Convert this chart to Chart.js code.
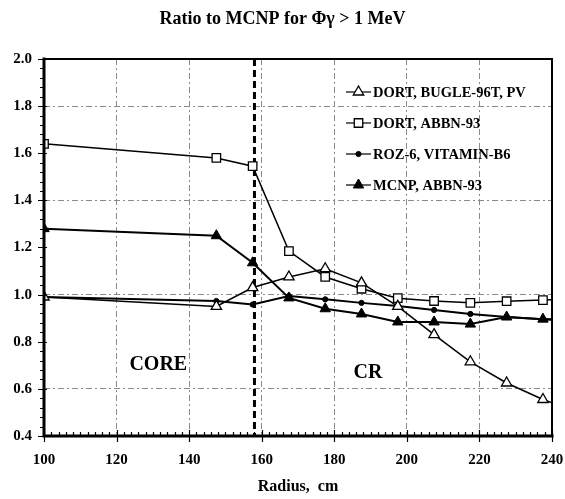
<!DOCTYPE html>
<html>
<head>
<meta charset="utf-8">
<script src="https://cdn.jsdelivr.net/npm/chart.js"></script>
<style>
  html, body { margin: 0; padding: 0; background: #fff; }
  canvas { display: block; }
</style>
</head>
<body>
<canvas id="chart" width="565" height="499"></canvas>
<script>
// Radial mesh positions (cm); the last one lies just outside the plotted range
const radius = [100, 147.5, 157.5, 167.5, 177.5, 187.5, 197.5, 207.5, 217.5, 227.5, 237.5, 247.5];

// Ratio to MCNP, gamma flux above 1 MeV
const dortBugle = [0.99, 0.95, 1.03, 1.075, 1.11, 1.05, 0.95, 0.83, 0.715, 0.625, 0.555, 0.50];
const dortAbbn  = [1.64, 1.58, 1.545, 1.185, 1.075, 1.025, 0.985, 0.973, 0.965, 0.972, 0.977, 0.98];
const roz6      = [0.99, 0.973, 0.958, 0.994, 0.98, 0.965, 0.952, 0.935, 0.918, 0.905, 0.896, 0.885];
const mcnpAbbn  = [1.28, 1.25, 1.135, 0.986, 0.94, 0.918, 0.884, 0.884, 0.875, 0.905, 0.896, 0.893];

const seriesLabels = ['DORT, BUGLE-96T, PV', 'DORT, ABBN-93', 'ROZ-6, VITAMIN-B6', 'MCNP, ABBN-93'];

// Core / core-reflector boundary and zone captions
const BOUNDARY_RADIUS = 158;
const zoneNames = ['CORE', 'CR'];
const zoneX = [131.5, 189.3];
const zoneY = [0.70, 0.67];

const SERIF = "'Liberation Serif', 'Times New Roman', serif";

const toPoints = vals => radius.map((r, i) => ({ x: r, y: vals[i] }));

function marker(ctx, style, r, x, y) {
  if (Chart.helpers && Chart.helpers.drawPoint) {
    Chart.helpers.drawPoint(ctx, { pointStyle: style, radius: r, borderWidth: ctx.lineWidth, rotation: 0 }, x, y);
    return;
  }
  ctx.beginPath();
  if (style === 'triangle') {
    ctx.moveTo(x, y - r);
    ctx.lineTo(x + r * 0.866, y + r / 2);
    ctx.lineTo(x - r * 0.866, y + r / 2);
    ctx.closePath();
  } else if (style === 'rect') {
    const s = r * Math.SQRT1_2;
    ctx.rect(x - s, y - s, 2 * s, 2 * s);
  } else {
    ctx.arc(x, y, r, 0, Math.PI * 2);
  }
  ctx.fill();
  ctx.stroke();
}

// Thick dashed boundary line and zone captions
const zonePlugin = {
  id: 'zones',
  beforeDatasetsDraw(chart) {
    const { ctx, chartArea: a, scales: { x, y } } = chart;
    const px = x.getPixelForValue(BOUNDARY_RADIUS);
    ctx.save();
    ctx.strokeStyle = '#000';
    ctx.lineWidth = 3;
    ctx.setLineDash([7, 4]);
    ctx.beginPath();
    ctx.moveTo(px, a.top);
    ctx.lineTo(px, a.bottom);
    ctx.stroke();
    ctx.setLineDash([]);
    ctx.fillStyle = '#000';
    ctx.font = `bold 20px ${SERIF}`;
    ctx.textAlign = 'center';
    ctx.textBaseline = 'middle';
    zoneNames.forEach((t, i) => ctx.fillText(t, x.getPixelForValue(zoneX[i]), y.getPixelForValue(zoneY[i])));
    ctx.restore();
  }
};

// Plot frame with major and minor tick marks
const framePlugin = {
  id: 'frame',
  afterDatasetsDraw(chart) {
    const { ctx, chartArea: a, scales: { x, y } } = chart;
    ctx.save();
    ctx.strokeStyle = '#000';
    ctx.lineCap = 'square';
    ctx.lineWidth = 2;
    ctx.beginPath();
    ctx.moveTo(a.left, a.top); ctx.lineTo(a.right, a.top); ctx.lineTo(a.right, a.bottom);
    ctx.stroke();
    ctx.lineWidth = 3;
    ctx.beginPath();
    ctx.moveTo(a.left, a.top); ctx.lineTo(a.left, a.bottom); ctx.lineTo(a.right, a.bottom);
    ctx.stroke();
    ctx.lineCap = 'butt';
    ctx.lineWidth = 1.2;
    ctx.beginPath();
    for (let v = 100; v <= 240.001; v += 2) {
      const px = Math.round(x.getPixelForValue(v)) + 0.5;
      const major = Math.abs(v / 20 - Math.round(v / 20)) < 1e-6;
      ctx.moveTo(px, a.bottom - (major ? 6 : 4));
      ctx.lineTo(px, a.bottom + (major ? 6 : 0));
    }
    for (let v = 0.4; v <= 2.0001; v += 0.04) {
      const py = Math.round(y.getPixelForValue(v)) + 0.5;
      const major = Math.abs(v / 0.2 - Math.round(v / 0.2)) < 1e-6;
      ctx.moveTo(a.left - (major ? 6 : 4), py);
      ctx.lineTo(a.left + (major ? 3 : 0), py);
    }
    ctx.stroke();
    ctx.restore();
  }
};

// Legend drawn inside the plot, upper right
const legendPlugin = {
  id: 'insideLegend',
  afterDraw(chart) {
    const { ctx } = chart;
    const x0 = 346, lineLen = 25, rowTop = 92, rowStep = 31;
    ctx.save();
    ctx.font = `bold 14.5px ${SERIF}`;
    ctx.textBaseline = 'middle';
    ctx.textAlign = 'left';
    chart.data.datasets.forEach((ds, i) => {
      const yy = rowTop + i * rowStep;
      ctx.strokeStyle = '#000';
      ctx.lineWidth = 1.2;
      ctx.beginPath();
      ctx.moveTo(x0, yy); ctx.lineTo(x0 + lineLen, yy);
      ctx.stroke();
      ctx.fillStyle = ds.pointBackgroundColor;
      ctx.strokeStyle = '#000';
      ctx.lineWidth = ds.pointBorderWidth;
      marker(ctx, ds.pointStyle, ds.pointRadius, x0 + lineLen / 2, yy);
      ctx.fillStyle = '#000';
      ctx.fillText(ds.label, x0 + lineLen + 2, yy + 1);
    });
    ctx.restore();
  }
};

const seriesStyle = [
  { pointStyle: 'triangle', pointRadius: 6, pointBackgroundColor: '#fff', pointBorderWidth: 1.3, borderWidth: 1.5 },
  { pointStyle: 'rect',     pointRadius: 6, pointBackgroundColor: '#fff', pointBorderWidth: 1.3, borderWidth: 1.5 },
  { pointStyle: 'circle',   pointRadius: 2.6, pointBackgroundColor: '#000', pointBorderWidth: 1, borderWidth: 2 },
  { pointStyle: 'triangle', pointRadius: 6, pointBackgroundColor: '#000', pointBorderWidth: 1, borderWidth: 2 }
];
const seriesValues = [dortBugle, dortAbbn, roz6, mcnpAbbn];

new Chart(document.getElementById('chart'), {
  type: 'line',
  data: {
    datasets: seriesValues.map((vals, i) => Object.assign({
      label: seriesLabels[i],
      data: toPoints(vals),
      borderColor: '#000',
      pointBorderColor: '#000',
      tension: 0,
      fill: false
    }, seriesStyle[i]))
  },
  options: {
    responsive: false,
    animation: false,
    layout: { padding: { left: 0, right: 0, top: 0, bottom: 0 } },
    plugins: {
      legend: { display: false },
      tooltip: { enabled: false },
      title: {
        display: true,
        text: 'Ratio to MCNP for Φγ > 1 MeV',
        color: '#000',
        font: { family: SERIF, size: 18, weight: 'bold' },
        padding: { top: 9, bottom: 28.4 }
      }
    },
    scales: {
      x: {
        type: 'linear',
        min: 100,
        max: 240,
        afterFit: s => { s.height = 63; s.paddingRight = 13; s.paddingLeft = 0; },
        ticks: { stepSize: 20, color: '#000', padding: 15, font: { family: SERIF, size: 15, weight: 'bold' } },
        grid: { color: '#8a8a8a', lineWidth: 1, drawTicks: false },
        border: { display: false, dash: [6, 3, 2, 3] },
        title: {
          display: true,
          text: 'Radius,  cm',
          color: '#000',
          font: { family: SERIF, size: 16, weight: 'bold' },
          padding: { top: 0, bottom: 3 }
        }
      },
      y: {
        min: 0.4,
        max: 2.0,
        afterFit: s => { s.width = 44; },
        ticks: {
          stepSize: 0.2,
          color: '#000',
          padding: 12,
          font: { family: SERIF, size: 15, weight: 'bold' },
          callback: v => v.toFixed(1)
        },
        grid: {
          drawTicks: false,
          lineWidth: 1,
          color: c => (Math.round(c.tick.value * 10) % 4 === 2 ? '#8a8a8a' : 'rgba(0,0,0,0)')
        },
        border: { display: false, dash: [6, 3, 2, 3] }
      }
    }
  },
  plugins: [zonePlugin, framePlugin, legendPlugin]
});
</script>
</body>
</html>
